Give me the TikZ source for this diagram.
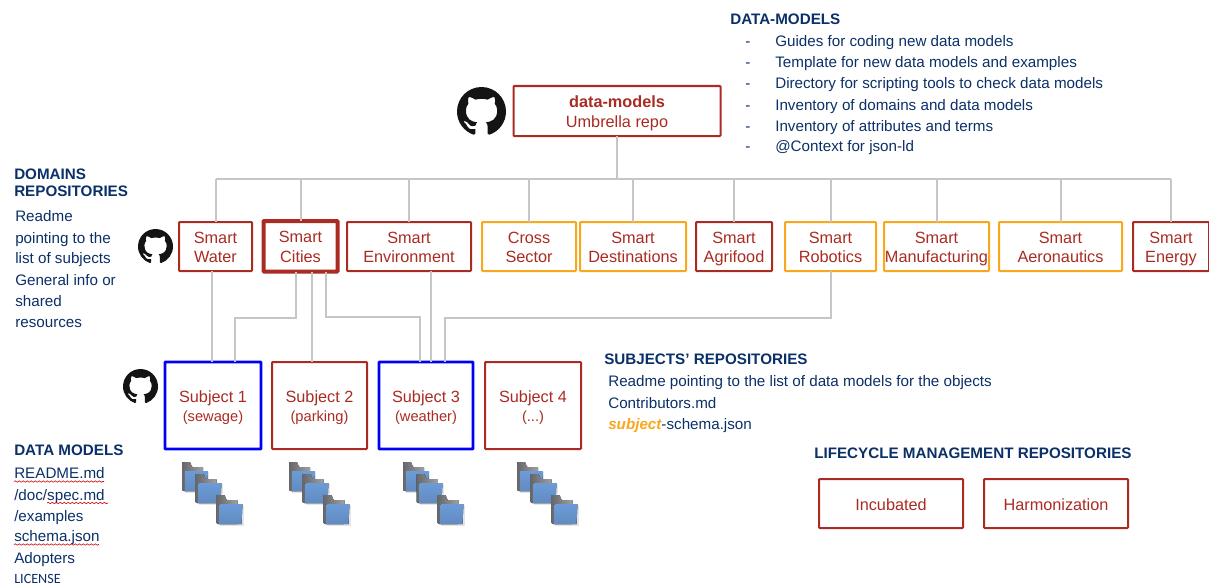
\documentclass[tikz,border=0pt]{standalone}
\usepackage{fontspec}
\setmainfont{Liberation Sans}
\newfontfamily\carlitofont{Carlito}
\usetikzlibrary{svg.path,decorations.pathmorphing}
\definecolor{navy}{HTML}{0B3068}
\definecolor{brick}{HTML}{A92B22}
\definecolor{amber}{HTML}{F9A71C}
\definecolor{wire}{HTML}{C6C6C6}
\definecolor{pureblue}{HTML}{0000F5}
\definecolor{fblue}{HTML}{6C9BD6}
\definecolor{fgrey}{HTML}{808185}
\tikzset{
  lab/.style={anchor=base west,inner sep=0pt,text=navy,font=\fontsize{11.4}{13}\selectfont},
  head/.style={lab,font=\fontsize{11.4}{13}\selectfont\bfseries},
  boxbase/.style={draw,rectangle,rounded corners=0.6pt,inner sep=0pt,outer sep=0pt},
  boxlabel/.style={inner sep=0pt,outer sep=0pt,align=center,text=brick,font=\fontsize{12.2}{14.4}\selectfont,execute at begin node=\strut,execute at end node=\strut},
  redbox/.style={boxbase,draw=brick,line width=1.5pt},
  heavybox/.style={boxbase,draw=brick,line width=3pt},
  amberbox/.style={boxbase,draw=amber,line width=1.5pt},
  bluebox/.style={boxbase,draw=pureblue,line width=2.2pt},
  wirel/.style={draw=wire,line width=1.5pt},
  squig/.style={draw=red!80!black,line width=0.45pt,decorate,decoration={snake,amplitude=0.55pt,segment length=3pt}}
}
\newcommand{\bx}[7]{%
  \pgfmathsetmacro{\cxx}{(#3+#5)/2}\pgfmathsetmacro{\cyy}{(#4+#6)/2}%
  \pgfmathsetmacro{\cyt}{\cyy+3.5}%
  \pgfmathsetmacro{\wdd}{(#5-#3)*0.75}\pgfmathsetmacro{\htt}{(#6-#4)*0.75}%
  \node[#2,minimum width=\wdd pt,minimum height=\htt pt] (#1) at (\cxx,\cyy) {};
  \node[boxlabel] (#1t) at (\cxx,\cyt) {#7};}
\newcommand{\ghmark}[3]{%
  \pgfmathsetmacro{\ssc}{#3*0.75/16}%
  \fill[black!92,shift={(#1,#2)},xscale=\ssc,yscale=-\ssc]
   svg {M 8 0 C 3.58 0 0 3.58 0 8 c 0 3.54 2.29 6.53 5.47 7.59 c .4 .07 .55 -.17 .55 -.38 c 0 -.19 -.01 -.82 -.01 -1.49 c -2.01 .37 -2.53 -.49 -2.69 -.94 c -.09 -.23 -.48 -.94 -.82 -1.13 c -.28 -.15 -.68 -.52 -.01 -.53 c .63 -.01 1.08 .58 1.23 .82 c .72 1.21 1.87 .87 2.33 .66 c .07 -.52 .28 -.87 .51 -1.07 c -1.78 -.2 -3.64 -.89 -3.64 -3.95 c 0 -.87 .31 -1.59 .82 -2.15 c -.08 -.2 -.36 -1.02 .08 -2.12 c 0 0 .67 -.21 2.2 .82 c .64 -.18 1.32 -.27 2 -.27 c .68 0 1.36 .09 2 .27 c 1.53 -1.04 2.2 -.82 2.2 -.82 c .44 1.1 .16 1.92 .08 2.12 c .51 .56 .82 1.27 .82 2.15 c 0 3.07 -1.87 3.75 -3.65 3.95 c .29 .25 .54 .73 .54 1.48 c 0 1.07 -.01 1.93 -.01 2.2 c 0 .21 .15 .46 .55 .38 C 13.71 14.53 16 11.54 16 8 c 0 -4.42 -3.58 -8 -8 -8 z};}
\newcommand{\folder}[2]{%
  \begin{scope}[shift={(#1,#2)}]
    \fill[black!10] (3,10) -- (27,10) -- (27,30.5) -- (3,30.5) -- cycle;
    \fill[left color=fgrey!80!black,right color=fgrey!75!white,rounded corners=0.5pt] (0,0) -- (8,0) -- (10,5) -- (21,5) -- (21,12) -- (21,29) -- (1,29) -- (0,28) -- cycle;
    \fill[top color=fblue,bottom color=fblue!90!black] (3,9) -- (26,9) -- (25,29) -- (3,29) -- cycle;
  \end{scope}}
\newcommand{\folderset}[1]{%
  \folder{182+#1}{462}\folder{195.5+#1}{474}\folder{216.5+#1}{495}}
\begin{document}
\begin{tikzpicture}[x=0.75pt,y=-0.75pt]
\useasboundingbox (0,0) rectangle (1209,585);
% boxes
\bx{top}{redbox}{513.5}{86}{720.5}{136}{{\bfseries data-models}\\Umbrella repo}
\bx{water}{redbox}{179}{222}{252}{271}{Smart\\Water}
\bx{cities}{heavybox}{263.5}{221}{337.5}{271.5}{Smart\\Cities}
\bx{env}{redbox}{347}{222}{471}{271}{Smart\\Environment}
\bx{cross}{amberbox}{482}{222}{576}{271}{Cross\\Sector}
\bx{dest}{amberbox}{580}{222}{686}{271}{Smart\\Destinations}
\bx{agri}{redbox}{696}{222}{772}{271}{Smart\\Agrifood}
\bx{robo}{amberbox}{785}{222}{876}{271}{Smart\\Robotics}
\bx{manu}{amberbox}{884}{222}{989}{271}{Smart\\Manufacturing}
\bx{aero}{amberbox}{999}{222}{1122}{271}{Smart\\Aeronautics}
\bx{ener}{redbox}{1133}{222}{1209}{271}{Smart\\Energy}
\bx{subA}{bluebox}{165}{362}{261}{449}{Subject 1\\[-0.5pt]{\fontsize{11}{13}\selectfont (sewage)}}
\bx{subB}{redbox}{272}{362}{367}{449}{Subject 2\\[-0.5pt]{\fontsize{11}{13}\selectfont (parking)}}
\bx{subC}{bluebox}{379}{362}{473}{449}{Subject 3\\[-0.5pt]{\fontsize{11}{13}\selectfont (weather)}}
\bx{subD}{redbox}{485}{362}{581}{449}{Subject 4\\[-0.5pt]{\fontsize{11}{13}\selectfont (...)}}
\bx{incu}{redbox}{819}{479}{963}{528}{Incubated}
\bx{harm}{redbox}{984}{479}{1128}{528}{Harmonization}
% connectors
\coordinate (busL) at (215.5,179);
\coordinate (busR) at (1171,179);
\draw[wirel] (busL) -- (busR);
\foreach \n in {water,cities,env,cross,dest,agri,robo,manu,aero,ener}
  \draw[wirel] (\n.north) -- (\n.north |- busL);
\draw[wirel] (top.south -| 616.5,0) -- (616.5,179);
\draw[wirel] (water.south -| 212,0) -- (subA.north -| 212,0);
\draw[wirel] (cities.south -| 296,0) -- (296,318) -- (235,318) -- (subA.north -| 235,0);
\draw[wirel] (cities.south -| 311.7,0) -- (subB.north -| 311.7,0);
\draw[wirel] (cities.south -| 326,0) -- (326,317) -- (420,317) -- (subC.north -| 420,0);
\draw[wirel] (env.south -| 431.3,0) -- (subC.north -| 431.3,0);
\draw[wirel] (robo.south -| 830.5,0) -- (830.5,318) -- (445,318) -- (subC.north -| 445,0);
% github marks
\ghmark{457}{87}{49}
\ghmark{138}{229}{35}
\ghmark{123}{369}{35}
% folders
\folderset{0}\folderset{107}\folderset{221}\folderset{335}
% top right text
\node[head] (t1) at (730,25) {DATA-MODELS};
\foreach \yy/\lbl in {47/Guides for coding new data models,
  68/Template for new data models and examples,
  89/Directory for scripting tools to check data models,
  110/Inventory of domains and data models,
  131/Inventory of attributes and terms,
  151/@Context for json-ld}{
  \node[lab] at (745,\yy) {-};
  \node[lab] at (775,\yy) {\lbl};
}
% domains
\node[head] (t2) at (14,179) {DOMAINS};
\node[head] (t3) at (14,196) {REPOSITORIES};
\foreach \yy/\lbl in {221/Readme,243/pointing to the,263/list of subjects,285/General info or,306/shared,327/resources}
  \node[lab] at (15,\yy) {\lbl};
% subjects
\node[head] (t4) at (604,364) {SUBJECTS’ REPOSITORIES};
\node[lab] at (608,386) {Readme pointing to the list of data models for the objects};
\node[lab] at (608,408) {Contributors.md};
\node[lab] at (608,429) {{\color{amber}\bfseries\itshape subject}-schema.json};
\node[head] (t5) at (814,458) {LIFECYCLE MANAGEMENT REPOSITORIES};
% data models
\node[head] (t6) at (14,455) {DATA MODELS};
\foreach \yy/\lbl in {478/README.md,500/{/doc/spec.md},521/{/examples},541/schema.json,563/Adopters}
  \node[lab] at (14,\yy) {\lbl};
\node[lab,font=\carlitofont\fontsize{10.6}{12}\selectfont] at (14,583) {LICENSE};
\draw[squig] (14,481.5) -- (104,481.5);
\draw[squig] (47,503) -- (108,503);
\draw[squig] (14,544.5) -- (99,544.5);
\end{tikzpicture}
\end{document}
